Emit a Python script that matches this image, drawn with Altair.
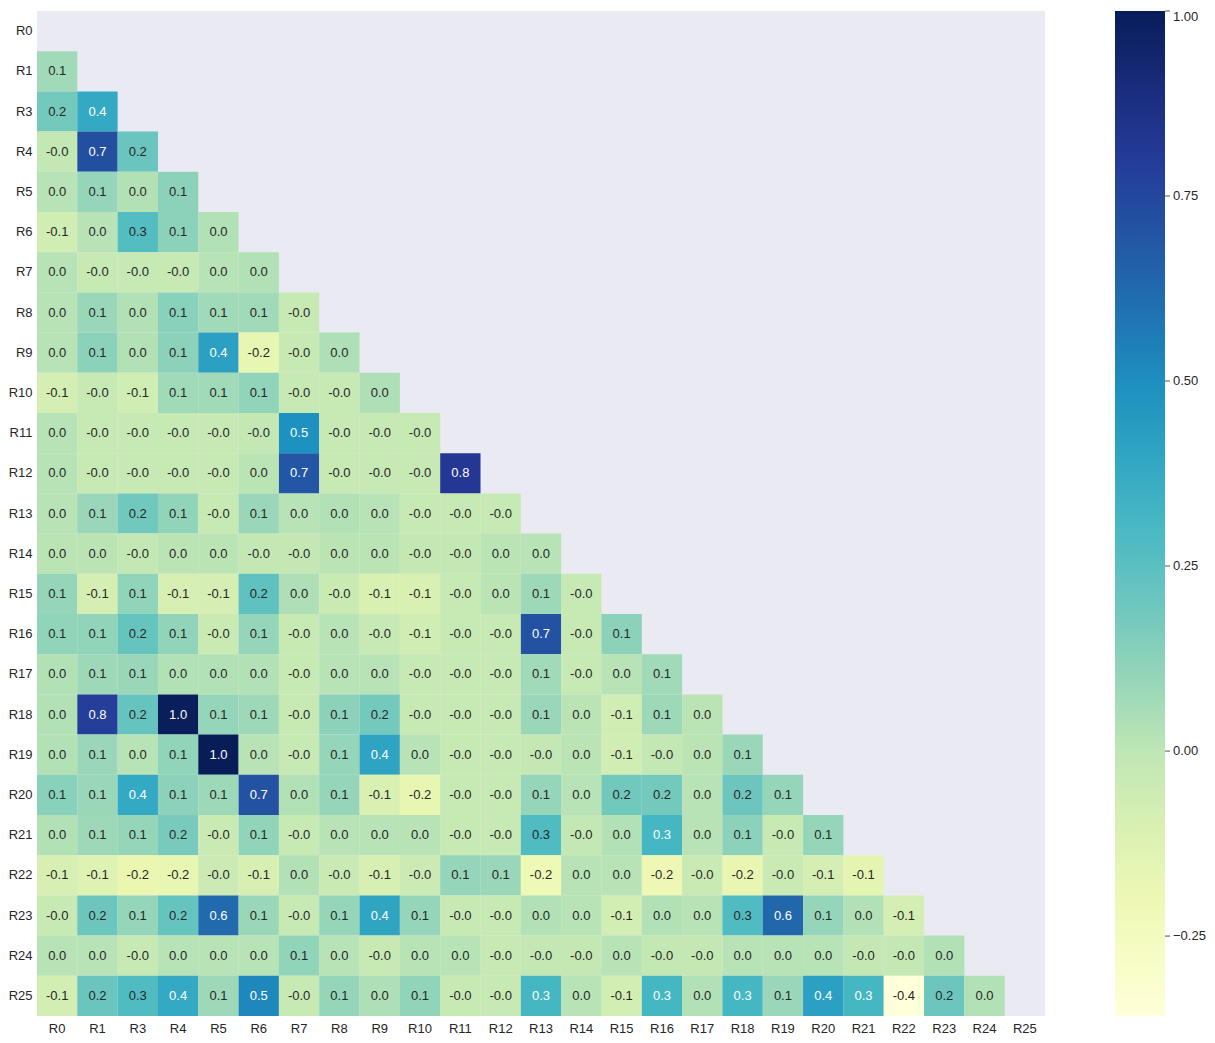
import altair as alt
import numpy as np
import pandas as pd

labels = ["R0", "R1", "R3", "R4", "R5", "R6", "R7", "R8", "R9", "R10", "R11", "R12",
          "R13", "R14", "R15", "R16", "R17", "R18", "R19", "R20", "R21", "R22", "R23",
          "R24", "R25"]

# lower-triangle correlation values (row label -> values for columns R0 ... previous)
row_R1 = [0.07]
row_R3 = [0.18, 0.38]
row_R4 = [-0.01, 0.72, 0.21]
row_R5 = [0.02, 0.10, 0.03, 0.12]
row_R6 = [-0.06, 0.02, 0.27, 0.12, 0.03]
row_R7 = [0.02, -0.02, -0.02, -0.02, 0.02, 0.03]
row_R8 = [0.02, 0.09, 0.03, 0.13, 0.07, 0.07, -0.02]
row_R9 = [0.02, 0.12, 0.03, 0.12, 0.42, -0.16, -0.02, 0.04]
row_R10 = [-0.08, -0.02, -0.06, 0.07, 0.07, 0.11, -0.02, -0.02, 0.04]
row_R11 = [0.02, -0.02, -0.02, -0.02, -0.02, -0.01, 0.49, -0.02, -0.02, -0.02]
row_R12 = [0.02, -0.02, -0.02, -0.02, -0.02, 0.01, 0.69, -0.02, -0.02, -0.02, 0.82]
row_R13 = [0.02, 0.09, 0.19, 0.11, -0.02, 0.09, 0.02, 0.03, 0.02, -0.02, -0.02, -0.02]
row_R14 = [0.01, 0.01, -0.01, 0.01, 0.01, -0.01, -0.01, 0.01, 0.01, -0.01, -0.01, 0.01, 0.02]
row_R15 = [0.10, -0.08, 0.11, -0.09, -0.08, 0.24, 0.04, -0.03, -0.10, -0.10, -0.02, 0.01,
           0.08, -0.02]
row_R16 = [0.11, 0.11, 0.22, 0.11, -0.03, 0.10, -0.02, 0.02, -0.02, -0.06, -0.02, -0.02,
           0.71, -0.02, 0.12]
row_R17 = [0.03, 0.08, 0.09, 0.03, 0.03, 0.03, -0.02, 0.02, 0.02, -0.02, -0.02, -0.02,
           0.07, -0.02, 0.02, 0.07]
row_R18 = [0.03, 0.79, 0.22, 0.99, 0.10, 0.08, -0.02, 0.12, 0.18, -0.02, -0.02, -0.02,
           0.09, 0.01, -0.06, 0.08, 0.01]
row_R19 = [0.03, 0.09, 0.02, 0.11, 1.00, 0.02, -0.02, 0.10, 0.41, 0.02, -0.02, -0.02,
           -0.01, 0.01, -0.06, -0.01, 0.01, 0.09]
row_R20 = [0.13, 0.09, 0.38, 0.12, 0.08, 0.71, 0.03, 0.10, -0.10, -0.16, -0.02, -0.02,
           0.10, 0.02, 0.19, 0.18, 0.02, 0.20, 0.10]
row_R21 = [0.03, 0.08, 0.10, 0.17, -0.03, 0.11, -0.02, 0.02, 0.02, 0.02, -0.02, -0.02,
           0.28, -0.01, 0.03, 0.31, 0.02, 0.12, -0.02, 0.10]
row_R22 = [-0.09, -0.12, -0.18, -0.16, -0.04, -0.09, 0.03, -0.03, -0.09, -0.04, 0.10, 0.09,
           -0.21, 0.02, 0.02, -0.20, -0.03, -0.17, -0.03, -0.08, -0.15]
row_R23 = [-0.02, 0.20, 0.10, 0.22, 0.62, 0.09, -0.02, 0.10, 0.40, 0.10, -0.02, -0.02,
           0.03, 0.02, -0.07, 0.03, 0.02, 0.28, 0.63, 0.10, 0.03, -0.08]
row_R24 = [0.02, 0.02, -0.02, 0.02, 0.02, 0.02, 0.11, 0.02, -0.02, 0.02, 0.02, -0.02,
           -0.01, -0.01, 0.02, -0.01, -0.01, 0.02, 0.02, 0.02, -0.01, -0.01, 0.03]
row_R25 = [-0.07, 0.21, 0.28, 0.38, 0.08, 0.52, -0.02, 0.10, 0.04, 0.11, -0.02, -0.02,
           0.31, 0.02, -0.07, 0.31, 0.03, 0.31, 0.09, 0.42, 0.31, -0.358, 0.20, 0.03]

rows = [row_R1, row_R3, row_R4, row_R5, row_R6, row_R7, row_R8, row_R9, row_R10, row_R11,
        row_R12, row_R13, row_R14, row_R15, row_R16, row_R17, row_R18, row_R19, row_R20,
        row_R21, row_R22, row_R23, row_R24, row_R25]

# YlGnBu colormap anchors
cmap_colors = ["#ffffd9", "#edf8b1", "#c7e9b4", "#7fcdbb", "#41b6c4", "#1d91c0",
               "#225ea8", "#253494", "#081d58"]
cbar_ticks = [-0.25, 0.0, 0.25, 0.5, 0.75, 1.0]

FONT = "Liberation Sans"
TXT = "#262626"
W, H = 1008, 1005
CB_OFF, CB_W = 70, 50

records = []
for i, vals in enumerate(rows, start=1):
    for j, v in enumerate(vals):
        records.append({"row": labels[i], "col": labels[j], "value": v})
df = pd.DataFrame(records)
vmin = float(df["value"].min())
vmax = float(df["value"].max())
stops = [float(s) for s in np.linspace(vmin, vmax, len(cmap_colors))]

# text colour as in seaborn (relative luminance of the cell colour)
rgb_anchor = np.array([[int(c[k:k + 2], 16) / 255 for k in (1, 3, 5)] for c in cmap_colors])


def text_color(v):
    t = (v - vmin) / (vmax - vmin)
    xs = np.linspace(0, 1, len(cmap_colors))
    rgb = np.array([np.interp(t, xs, rgb_anchor[:, k]) for k in range(3)])
    lin = np.where(rgb <= 0.03928, rgb / 12.92, ((rgb + 0.055) / 1.055) ** 2.4)
    lum = lin.dot([0.2126, 0.7152, 0.0722])
    return TXT if lum > 0.408 else "#ffffff"


df["label"] = [f"{v:.1f}" for v in df["value"]]
df["tcolor"] = [text_color(v) for v in df["value"]]

axis_common = dict(title=None, ticks=False, domain=False, grid=False, labelFont=FONT,
                   labelFontSize=13, labelColor=TXT)
xenc = alt.X("col:N", scale=alt.Scale(domain=labels, paddingInner=0, paddingOuter=0),
             axis=alt.Axis(labelAngle=0, labelPadding=6, **axis_common))
yenc = alt.Y("row:N", scale=alt.Scale(domain=labels, paddingInner=0, paddingOuter=0),
             axis=alt.Axis(labelPadding=5, **axis_common))

rect = alt.Chart(df).mark_rect().encode(
    x=xenc,
    y=yenc,
    color=alt.Color(
        "value:Q",
        scale=alt.Scale(domain=stops, range=cmap_colors, interpolate="rgb"),
        legend=alt.Legend(
            title=None, orient="right", offset=CB_OFF, gradientLength=H,
            gradientThickness=CB_W, values=cbar_ticks, format=".2f", labelFont=FONT,
            labelFontSize=13, labelColor=TXT, labelOffset=8, labelOverlap=False, padding=0,
        ),
    ),
)

text = alt.Chart(df).mark_text(font=FONT, fontSize=13).encode(
    x=xenc,
    y=yenc,
    text="label:N",
    fill=alt.Fill("tcolor:N", scale=None),
)

heat = alt.layer(rect, text)

ticks_df = pd.DataFrame({"t": cbar_ticks})
ticks = alt.Chart(ticks_df).mark_rule(color=TXT, strokeWidth=0.8).encode(
    y=alt.Y("t:Q", scale=alt.Scale(domain=[vmin, vmax], nice=False, zero=False), axis=None),
    x=alt.value(W + CB_OFF + CB_W),
    x2=alt.value(W + CB_OFF + CB_W + 5),
)

chart = (
    alt.layer(heat, ticks)
    .resolve_scale(y="independent")
    .properties(width=W, height=H, padding={"left": 0, "top": 2, "right": 0, "bottom": 0})
    .configure_view(fill="#EAEAF2", stroke=None)
)

chart.save("out.html", embed_options={"renderer": "svg", "actions": False})
